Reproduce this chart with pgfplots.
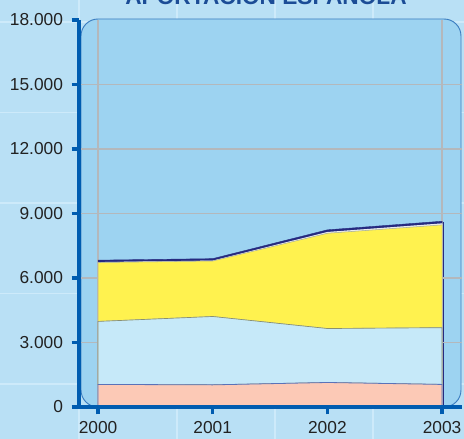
\documentclass[border=0pt]{standalone}
\usepackage{fontspec}
\setmainfont{Liberation Sans}
\usepackage{pgfplots}
\pgfplotsset{compat=1.18}
\definecolor{pagebg}{HTML}{B9E0F5}
\definecolor{pagegrid}{HTML}{CDEAFA}
\definecolor{plotbg}{HTML}{9DD3F1}
\definecolor{rectedge}{HTML}{3A7CC0}
\definecolor{axisblue}{HTML}{005CB0}
\definecolor{titleblue}{HTML}{1B4C96}
\definecolor{gridgray}{HTML}{B4B8BC}
\definecolor{salmon}{HTML}{FCC9B6}
\definecolor{paleblue}{HTML}{C6E9F9}
\definecolor{sunyellow}{HTML}{FFF24F}
\definecolor{navy}{HTML}{262A80}
\definecolor{edgeblue}{HTML}{5A72B8}
\definecolor{edgeolive}{HTML}{8A9070}
\definecolor{textgray}{HTML}{222222}
\begin{document}
\begin{tikzpicture}[x=0.75pt,y=0.75pt]
% 1 unit = 1 px of the reference; origin = lower left corner of the axis
\fill[pagebg] (-79,-32) rectangle (385,407);
\foreach \gx in {0,98,196,294}
  \draw[pagegrid, line width=1pt] (\gx,-32) -- (\gx,407);
\foreach \gy in {23,113.5,204,294.5,385}
  \draw[pagegrid, line width=1pt] (-79,\gy) -- (385,\gy);
\filldraw[fill=plotbg, draw=rectedge, line width=0.7pt, rounded corners=12.75pt] (2,0) rectangle (382,388);
\node[anchor=base, font=\fontsize{17}{17}\selectfont\bfseries, text=titleblue] at (187,402) {APORTACIÓN ESPAÑOLA};
\begin{axis}[
  at={(0,0)}, anchor=south west, scale only axis,
  width=287.25pt, height=290.25pt,
  xmin=1999.834, xmax=2003.174, ymin=0, ymax=18000,
  axis lines*=left, axis on top,
  axis line style={line width=3pt, color=axisblue},
  tick style={line width=2.5pt, color=axisblue},
  tick align=outside, major tick length=5.5pt,
  xtick={2000,2001,2002,2003}, xticklabels={2000,2001,2002,2003},
  ytick={0,3000,...,18000}, scaled y ticks=false,
  tick label style={font=\fontsize{13}{13}\selectfont, text=textgray},
  yticklabel style={xshift=-3pt},
  xticklabel style={yshift=-1.5pt},
  /pgf/number format/.cd, 1000 sep={.}, fixed, assume math mode=true, /pgfplots/.cd,
  stack plots=y,
]
\addplot[fill=salmon, draw=edgeblue, line width=0.6pt] coordinates {(2000,1050) (2001,1030) (2002,1140) (2003,1050)} \closedcycle;
\addplot[fill=paleblue, draw=edgeolive, line width=0.5pt] coordinates {(2000,2930) (2001,3180) (2002,2510) (2003,2640)} \closedcycle;
\addplot[fill=sunyellow, draw=edgeolive!70, line width=0.4pt] coordinates {(2000,2740) (2001,2580) (2002,4430) (2003,4780)} \closedcycle;
\addplot[fill=gray!15, draw=none] coordinates {(2000,20) (2001,20) (2002,60) (2003,70)} \closedcycle;
\addplot[fill=navy, draw=navy, line width=0.3pt] coordinates {(2000,90) (2001,90) (2002,100) (2003,100)} \closedcycle;
\draw[gridgray, line width=1.1pt] (axis cs:1999.834,3000) -- (axis cs:2003.174,3000);
\draw[gridgray, line width=1.1pt] (axis cs:1999.834,6000) -- (axis cs:2003.174,6000);
\draw[gridgray, line width=1.1pt] (axis cs:1999.834,9000) -- (axis cs:2003.174,9000);
\draw[gridgray, line width=1.1pt] (axis cs:1999.834,12000) -- (axis cs:2003.174,12000);
\draw[gridgray, line width=1.1pt] (axis cs:1999.834,15000) -- (axis cs:2003.174,15000);
\draw[gridgray, line width=1.1pt] (axis cs:2000,0) -- (axis cs:2000,18000);
\draw[gridgray, line width=1.1pt] (axis cs:2003,0) -- (axis cs:2003,18000);
\draw[navy, line width=1.6pt] (axis cs:2003.012,0) -- (axis cs:2003.012,8620);
\end{axis}
\pgfresetboundingbox
\path[use as bounding box] (-79,-32) rectangle (385,407);
\end{tikzpicture}
\end{document}
